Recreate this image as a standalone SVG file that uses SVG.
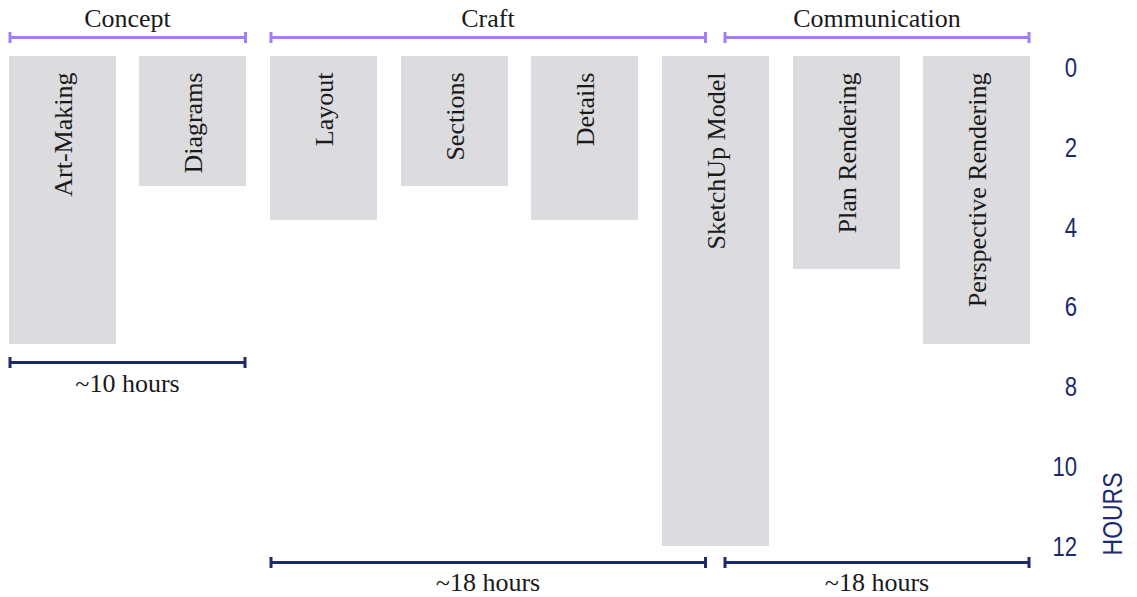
<svg xmlns="http://www.w3.org/2000/svg" width="1137" height="597" viewBox="0 0 1137 597">
<style>
.bar{fill:#dcdce0}
.lbl{font-family:"Liberation Serif","Times New Roman",serif;font-size:26px;fill:#1a1a1a}
.title{font-family:"Liberation Serif","Times New Roman",serif;font-size:26px;fill:#1a1a1a;text-anchor:middle}
.axis{font-family:"Liberation Sans",Arial,sans-serif;font-size:27px;fill:#1c2b6e;text-anchor:end}
.pb{stroke:#a47ef0;stroke-width:3;fill:none}
.nb{stroke:#1c2b6e;stroke-width:3;fill:none}
</style>
<g id="brackets">
<path class="pb" d="M10,37.5H245.5M10,32V43M245.5,32V43"/>
<path class="pb" d="M271,37.5H705.5M271,32V43M705.5,32V43"/>
<path class="pb" d="M725,37.5H1029M725,32V43M1029,32V43"/>
<path class="nb" d="M10,362.5H245M10,357V368M245,357V368"/>
<path class="nb" d="M271,562.5H705.5M271,557V568M705.5,557V568"/>
<path class="nb" d="M725,562.5H1029M725,557V568M1029,557V568"/>
</g>
<g id="group-titles">
<text class="title" x="127.5" y="27">Concept</text>
<text class="title" x="488" y="27">Craft</text>
<text class="title" x="877" y="27">Communication</text>
<text class="title" x="127.5" y="392">~10 hours</text>
<text class="title" x="488" y="591">~18 hours</text>
<text class="title" x="877" y="591">~18 hours</text>
</g>
<g id="bar-art-making">
<rect class="bar" x="9" y="56" width="107" height="288"/>
<text class="lbl" text-anchor="end" transform="translate(71.5,72.5) rotate(-90)">Art-Making</text>
</g>
<g id="bar-diagrams">
<rect class="bar" x="139" y="56" width="107" height="130"/>
<text class="lbl" text-anchor="end" transform="translate(201.5,72.5) rotate(-90)">Diagrams</text>
</g>
<g id="bar-layout">
<rect class="bar" x="270" y="56" width="107" height="164"/>
<text class="lbl" text-anchor="end" transform="translate(332.5,72.5) rotate(-90)">Layout</text>
</g>
<g id="bar-sections">
<rect class="bar" x="401" y="56" width="107" height="130"/>
<text class="lbl" text-anchor="end" transform="translate(463.5,72.5) rotate(-90)">Sections</text>
</g>
<g id="bar-details">
<rect class="bar" x="531" y="56" width="107" height="164"/>
<text class="lbl" text-anchor="end" transform="translate(593.5,72.5) rotate(-90)">Details</text>
</g>
<g id="bar-sketchup-model">
<rect class="bar" x="662" y="56" width="107" height="490"/>
<text class="lbl" text-anchor="end" transform="translate(724.5,72.5) rotate(-90)">SketchUp Model</text>
</g>
<g id="bar-plan-rendering">
<rect class="bar" x="793" y="56" width="107" height="213"/>
<text class="lbl" text-anchor="end" transform="translate(855.5,72.5) rotate(-90)">Plan Rendering</text>
</g>
<g id="bar-perspective-rendering">
<rect class="bar" x="923" y="56" width="107" height="288"/>
<text class="lbl" text-anchor="end" transform="translate(985.5,72.5) rotate(-90)">Perspective Rendering</text>
</g>
<g id="axis">
<text class="axis" transform="translate(1077,76.5) scale(0.82,1)">0</text>
<text class="axis" transform="translate(1077,156.5) scale(0.82,1)">2</text>
<text class="axis" transform="translate(1077,236.5) scale(0.82,1)">4</text>
<text class="axis" transform="translate(1077,316) scale(0.82,1)">6</text>
<text class="axis" transform="translate(1077,396) scale(0.82,1)">8</text>
<text class="axis" transform="translate(1077,476) scale(0.82,1)">10</text>
<text class="axis" transform="translate(1077,555.5) scale(0.82,1)">12</text>
<text class="axis" style="text-anchor:middle" transform="translate(1122,514) rotate(-90) scale(0.85,1)">HOURS</text>
</g>
</svg>
